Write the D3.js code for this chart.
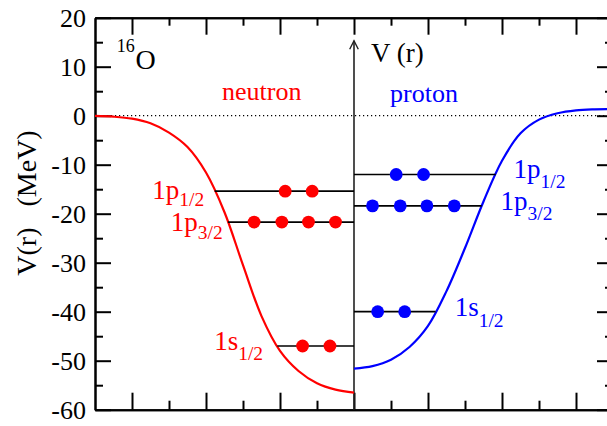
<!DOCTYPE html>
<html>
<head>
<meta charset="utf-8">
<script src="https://cdn.jsdelivr.net/npm/d3@7"></script>
<style>
  html, body { margin: 0; padding: 0; background: #fff; }
  svg { display: block; font-family: "Liberation Serif", "Times New Roman", serif; }
  .axis path, .axis line { stroke: #000; stroke-width: 2; }
  .axis text { font-size: 26px; fill: #000; font-family: "Liberation Serif", serif; }
</style>
</head>
<body>
<svg id="chart" width="607" height="426"></svg>
<script>
// Mean-field potentials for 16O (r in fm, V in MeV).
// Neutron potential drawn on the left half (negative r), proton on the right.
const neutronR = [-7, -6.5, -6, -5.5, -5, -4.5, -4, -3.5, -3, -2.5, -2, -1.5, -1, -0.5, 0];
const neutronV = [-0.05, -0.2, -0.6, -1.55, -3.45, -6.4, -11.6, -19.7, -30.5, -40.9, -48.0, -52.1, -54.6, -55.9, -56.5];

const protonR = [0, 0.5, 1.0, 1.5, 2.0, 2.5, 3.0, 3.5, 4.0, 4.5, 5.0, 5.5, 6.0, 6.5, 7];
const protonV = [-51.6, -51.1, -49.8, -47.2, -42.9, -35.8, -27.0, -17.5, -9.2, -3.6, -0.8, 0.5, 1.1, 1.3, 1.35];

// Single-particle levels
const levelNames = ["1p1/2", "1p3/2", "1s1/2"];
const neutronLevels = [-15.4, -21.7, -47.0];
const protonLevels = [-12.0, -18.4, -40.0];

// Nucleon occupation markers (r positions) per level
const neutronDots = [[-1.86, -1.13], [-2.70, -1.95, -1.23, -0.50], [-1.39, -0.65]];
const protonDots = [[1.14, 1.88], [0.50, 1.25, 1.97, 2.71], [0.64, 1.37]];

// Axis ticks
const yMajorTicks = [-60, -50, -40, -30, -20, -10, 0, 10, 20];
const yMinorTicks = [-55, -45, -35, -25, -15, -5, 5, 15];
const xMajorTicks = [-6, -4, -2, 0, 2, 4, 6];
const xMinorTicks = [-5, -3, -1, 1, 3, 5];

// Label placement (x in fm, baseline offsets in px from the level line)
const neutronLabelLayout = [
  { x: -5.45, dy: 7.5, sub: 7.5 },
  { x: -4.95, dy: 8.5, sub: 8.5 },
  { x: -3.78, dy: 3.5, sub: 10 }
];
const protonLabelLayout = [
  { x: 4.31, dy: 3, sub: 10.5 },
  { x: 3.96, dy: 4.3, sub: 10 },
  { x: 2.72, dy: 4.3, sub: 10.7 }
];

const svg = d3.select("#chart");
const plotLeft = 95, plotRight = 613, plotTop = 17.7, plotBottom = 409.7;

const x = d3.scaleLinear().domain([-7, 7]).range([plotLeft, plotRight]);
const y = d3.scaleLinear().domain([-60, 20]).range([plotBottom, plotTop]);

// Axes (ticks point inward)
svg.append("g").attr("class", "axis").attr("transform", `translate(${plotLeft},0)`)
  .call(d3.axisLeft(y).tickValues(yMajorTicks).tickSize(-16).tickSizeOuter(0).tickPadding(9).tickFormat(d => d < 0 ? "-" + Math.abs(d) : d));
svg.append("g").attr("class", "axis").attr("transform", `translate(${plotLeft},0)`)
  .call(d3.axisLeft(y).tickValues(yMinorTicks).tickSize(-8).tickSizeOuter(0).tickFormat(""));
svg.append("g").attr("class", "axis").attr("transform", `translate(${plotRight},0)`)
  .call(d3.axisRight(y).tickValues(yMajorTicks).tickSize(-16).tickSizeOuter(0).tickFormat(""));
svg.append("g").attr("class", "axis").attr("transform", `translate(${plotRight},0)`)
  .call(d3.axisRight(y).tickValues(yMinorTicks).tickSize(-8).tickSizeOuter(0).tickFormat(""));
svg.append("g").attr("class", "axis").attr("transform", `translate(0,${plotBottom})`)
  .call(d3.axisBottom(x).tickValues(xMajorTicks).tickSize(-17).tickSizeOuter(0).tickFormat(""));
svg.append("g").attr("class", "axis").attr("transform", `translate(0,${plotBottom})`)
  .call(d3.axisBottom(x).tickValues(xMinorTicks).tickSize(-9).tickSizeOuter(0).tickFormat(""));
svg.append("g").attr("class", "axis").attr("transform", `translate(0,${plotTop})`)
  .call(d3.axisTop(x).tickValues(xMajorTicks).tickSize(-17).tickSizeOuter(0).tickFormat(""));
svg.append("g").attr("class", "axis").attr("transform", `translate(0,${plotTop})`)
  .call(d3.axisTop(x).tickValues(xMinorTicks).tickSize(-8).tickSizeOuter(0).tickFormat(""));

// Zero line
svg.append("line")
  .attr("x1", x(-7)).attr("x2", x(7)).attr("y1", y(0)).attr("y2", y(0))
  .attr("stroke", "#000").attr("stroke-width", 1.2).attr("stroke-dasharray", "1.2,2.8");

// Central r = 0 axis with arrow
const arrowTip = 40.7;
svg.append("line")
  .attr("x1", x(0)).attr("x2", x(0)).attr("y1", plotBottom).attr("y2", arrowTip)
  .attr("stroke", "#222").attr("stroke-width", 1.6);
svg.append("path")
  .attr("d", `M${x(0) - 4.3},${arrowTip + 8.5} L${x(0)},${arrowTip} L${x(0) + 4.3},${arrowTip + 8.5}`)
  .attr("fill", "none").attr("stroke", "#222").attr("stroke-width", 1.4);

// Potentials
const line = d3.line().x(d => x(d[0])).y(d => y(d[1])).curve(d3.curveCatmullRom.alpha(0.5));
svg.append("path").datum(d3.zip(neutronR, neutronV))
  .attr("d", line).attr("fill", "none").attr("stroke", "#ff0000").attr("stroke-width", 2.2);
svg.append("path").datum(d3.zip(protonR, protonV))
  .attr("d", line).attr("fill", "none").attr("stroke", "#0000ff").attr("stroke-width", 2.2);

// Where a level meets its potential curve
function crossing(rs, vs, e) {
  for (let i = 0; i < rs.length - 1; i++) {
    const a = vs[i], b = vs[i + 1];
    if ((a - e) * (b - e) <= 0 && a !== b) {
      return rs[i] + (e - a) / (b - a) * (rs[i + 1] - rs[i]);
    }
  }
  return rs[rs.length - 1];
}

function drawLevels(levels, rs, vs, dots, layout, color) {
  levels.forEach((e, i) => {
    const edge = crossing(rs, vs, e);
    svg.append("line")
      .attr("x1", x(edge)).attr("x2", x(0)).attr("y1", y(e)).attr("y2", y(e))
      .attr("stroke", "#000").attr("stroke-width", 1.7);
    svg.selectAll(null).data(dots[i]).enter().append("circle")
      .attr("cx", d => x(d)).attr("cy", y(e)).attr("r", 6.4).attr("fill", color);
    const [main, sub] = [levelNames[i].slice(0, 2), levelNames[i].slice(2)];
    const t = svg.append("text")
      .attr("x", x(layout[i].x)).attr("y", y(e) + layout[i].dy)
      .attr("fill", color).attr("font-size", 27);
    t.append("tspan").text(main);
    t.append("tspan").attr("font-size", 19.5).attr("dy", layout[i].sub).text(sub);
  });
}

drawLevels(neutronLevels, neutronR, neutronV, neutronDots, neutronLabelLayout, "#ff0000");
drawLevels(protonLevels, protonR, protonV, protonDots, protonLabelLayout, "#0000ff");

// Text labels
svg.append("text").attr("x", 116.7).attr("y", 51.7).attr("font-size", 18).text("16");
svg.append("text").attr("x", 135.5).attr("y", 69).attr("font-size", 28).text("O");
svg.append("text").attr("x", 371).attr("y", 61.7).attr("font-size", 27).text("V (r)");
svg.append("text").attr("x", 222).attr("y", 100).attr("font-size", 26).attr("fill", "#ff0000").text("neutron");
svg.append("text").attr("x", 390).attr("y", 101.5).attr("font-size", 26).attr("fill", "#0000ff").text("proton");

svg.append("text")
  .attr("transform", "translate(36,203) rotate(-90)")
  .attr("text-anchor", "middle").attr("font-size", 28)
  .style("white-space", "pre")
  .text("V(r)   (MeV)");
</script>
</body>
</html>
